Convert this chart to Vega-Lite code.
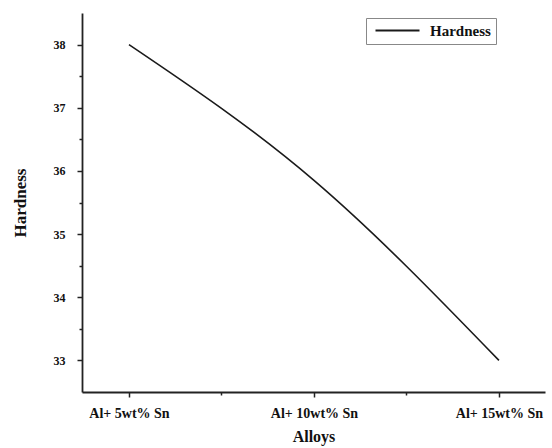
{
  "$schema": "https://vega.github.io/schema/vega-lite/v6.json",
  "width": 463,
  "height": 379,
  "autosize": "none",
  "padding": {"left": 82, "top": 13, "right": 7, "bottom": 56},
  "background": "white",
  "config": {"view": {"stroke": null}, "font": "Liberation Serif"},
  "data": {"values": [
    {"alloy": "Al+ 5wt% Sn", "order": 0, "hardness": 38.0},
    {"alloy": "Al+ 10wt% Sn", "order": 1, "hardness": 35.85},
    {"alloy": "Al+ 15wt% Sn", "order": 2, "hardness": 33.0}
  ]},
  "mark": {"type": "line", "interpolate": "natural", "strokeWidth": 1.6},
  "encoding": {
    "x": {"field": "order", "type": "quantitative", "title": "Alloys",
      "scale": {"domain": [-0.254, 2.249], "nice": false, "zero": false},
      "axis": {"values": [0, 0.5, 1, 1.5, 2],
        "labelExpr": "datum.value % 1 === 0 ? ['Al+ 5wt% Sn','Al+ 10wt% Sn','Al+ 15wt% Sn'][datum.value] : ''",
        "grid": false,
        "tickSize": {"condition": {"test": "datum.value % 1 === 0", "value": 5}, "value": 3},
        "tickColor": "#222", "tickWidth": 1.5, "domainColor": "#222", "domainWidth": 1.8,
        "labelFont": "Liberation Serif", "labelFontWeight": "bold", "labelFontSize": 14, "labelColor": "#111",
        "labelPadding": 9, "labelFlush": false, "labelOverlap": false,
        "titleFont": "Liberation Serif", "titleFontSize": 16, "titleFontWeight": "bold", "titleColor": "#111", "titlePadding": 8}},
    "y": {"field": "hardness", "type": "quantitative", "title": "Hardness",
      "scale": {"domain": [32.5, 38.5], "nice": false, "zero": false},
      "axis": {"values": [33, 33.5, 34, 34.5, 35, 35.5, 36, 36.5, 37, 37.5, 38],
        "labelExpr": "datum.value % 1 === 0 ? format(datum.value, 'd') : ''",
        "grid": false,
        "tickSize": {"condition": {"test": "datum.value % 1 === 0", "value": 5}, "value": 3},
        "tickColor": "#222", "tickWidth": 1.5, "domainColor": "#222", "domainWidth": 1.8,
        "labelFont": "Liberation Serif", "labelFontWeight": "bold", "labelFontSize": 12, "labelColor": "#111",
        "labelPadding": 12, "labelOverlap": false,
        "titleFont": "Liberation Serif", "titleFontSize": 17, "titleFontWeight": "bold", "titleColor": "#111", "titlePadding": 24}},
    "color": {"datum": "Hardness", "type": "nominal", "scale": {"range": ["#1a1a1a"]},
      "legend": {"title": null, "orient": "none", "legendX": 284, "legendY": 5,
        "symbolType": "M-1,0H13.67", "symbolSize": 36, "symbolStrokeWidth": 1.8,
        "labelFont": "Liberation Serif", "labelFontWeight": "bold", "labelFontSize": 15, "labelColor": "#111",
        "labelOffset": 44, "strokeColor": "#888", "fillColor": "white", "padding": 5}}
  }
}
